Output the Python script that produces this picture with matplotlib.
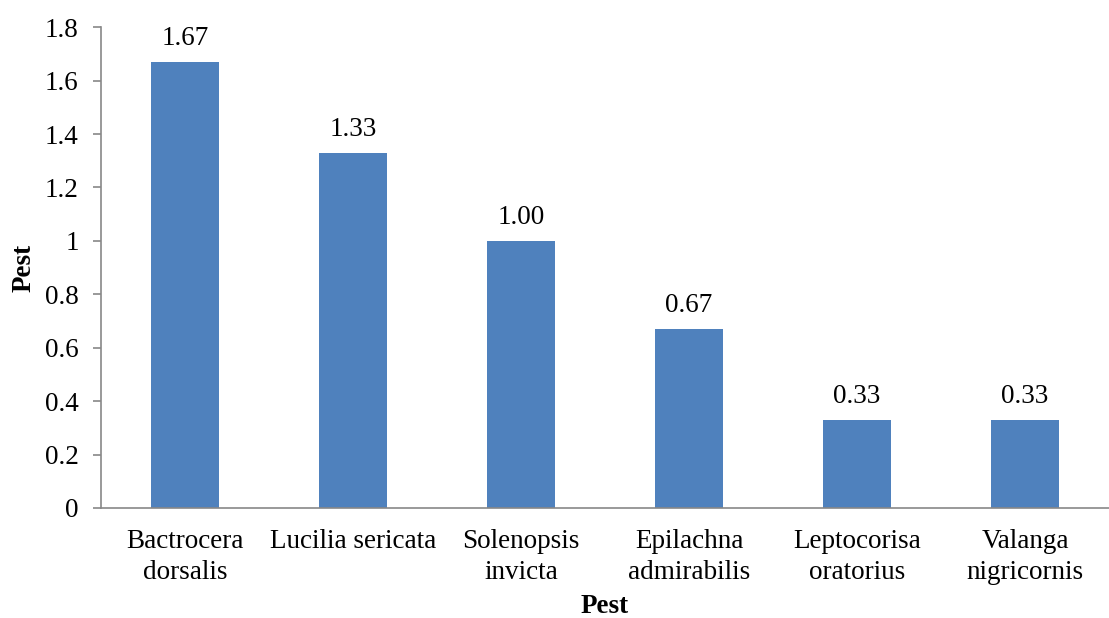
import matplotlib.pyplot as plt
import numpy as np

plt.rcParams['font.family'] = ['Liberation Serif', 'DejaVu Serif']

pests = ['Bactrocera\ndorsalis', 'Lucilia sericata', 'Solenopsis\ninvicta',
         'Epilachna\nadmirabilis', 'Leptocorisa\noratorius', 'Valanga\nnigricornis']
values = [1.67, 1.33, 1.00, 0.67, 0.33, 0.33]

fs = 19.5
fig = plt.figure(figsize=(11.09, 6.18), dpi=100)
ax = fig.add_axes([0.0911, 0.178, 0.909, 0.778])

x = np.arange(len(pests))
bars = ax.bar(x, values, width=0.405, color='#4F81BD')

for xi, v in zip(x, values):
    ax.text(xi, v + 0.04, '%.2f' % v, ha='center', va='bottom', fontsize=fs)

ax.set_xlim(-0.5, len(pests) - 0.5)
ax.set_ylim(0, 1.8)
ax.set_yticks(np.arange(0, 1.81, 0.2))
ax.set_yticklabels(['0', '0.2', '0.4', '0.6', '0.8', '1', '1.2', '1.4', '1.6', '1.8'])
ax.set_xticks(x)
ax.set_xticklabels(pests, fontsize=fs, linespacing=1.35)
ax.tick_params(axis='x', length=0, pad=15)
ax.tick_params(axis='y', labelsize=fs, length=6, color='#888888', width=1.2, pad=10)

for s in ['top', 'right']:
    ax.spines[s].set_visible(False)
for s in ['left', 'bottom']:
    ax.spines[s].set_color('#888888')
    ax.spines[s].set_linewidth(1.2)

ax.set_xlabel('Pest', fontsize=fs, fontweight='bold', labelpad=6)
ax.set_ylabel('Pest', fontsize=fs, fontweight='bold', labelpad=6)

fig.savefig('out.png', dpi=100)
